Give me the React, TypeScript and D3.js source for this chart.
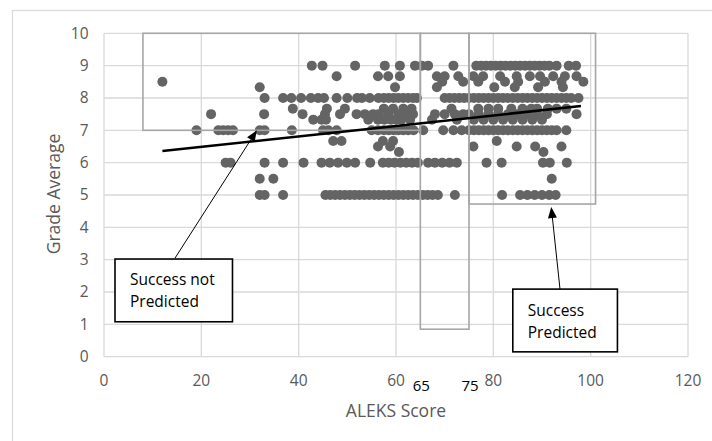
import React from "react";
import * as d3 from "d3";

// ---------- data ----------
const xTicks = [0, 20, 40, 60, 80, 100, 120];
const yTicks = [0, 1, 2, 3, 4, 5, 6, 7, 8, 9, 10];
const cutoffTicks = [65, 75];

const gradeLevels = [9, 8.67, 8.5, 8.33, 8, 7.67, 7.5, 7.33, 7, 6.67, 6.5, 6.33, 6, 5.5, 5];
const scoresByGrade: number[][] = [
  // 9
  [42.7, 44.9, 51.6, 57.7, 60.8, 63.9, 65.3, 66.6, 71.8, 76.5, 77.5, 78.5, 79.5, 80.5, 81.5, 82.5, 83.5, 84.5, 85.5, 86.5, 87.5, 88.5, 89.5, 90.5, 91.5, 93, 95.5, 97],
  // 8.67
  [47.8, 56.3, 58.4, 60.8, 68.4, 70, 72.8, 75.9, 77.9, 81.4, 84.8, 87.5, 89.6, 92.3, 94.7, 97.1],
  // 8.5
  [12, 69.5, 73.8, 76.9, 82.4, 85.1, 90.6, 94, 98.5],
  // 8.33
  [32, 59.8, 68.4, 80.2, 84.4, 89.2, 94.3],
  // 8
  [33, 36.8, 38.5, 40.5, 42.5, 44, 45.2, 47.8, 50, 52, 53, 54.6, 56.4, 57.5, 58.5, 59.5, 60.5, 61.5, 62.5, 63.5, 64.3, 70, 71, 72, 73, 74, 75, 76, 77, 78, 79, 80, 81, 82, 83, 84, 85, 86, 87, 88, 89, 90, 91, 92, 93, 94, 95, 96, 97.5],
  // 7.67
  [38.8, 45.8, 49.5, 57.5, 59.4, 61.5, 63.2, 71.4, 76.9, 79, 81, 83.7, 86, 87.8, 89, 91.2, 93, 95],
  // 7.5
  [22, 32.9, 40.8, 45.4, 48.5, 51.9, 53.6, 55.3, 56.4, 58.4, 60.5, 61.9, 63.5, 68, 70, 72.1, 73.8, 75, 77, 79, 81, 83, 85, 87, 89, 91, 97.1],
  // 7.33
  [43, 44.7, 45.6, 54.3, 56.3, 57.6, 59, 60, 61.1, 62.9, 67.4, 72.5, 76, 78, 80, 82, 84, 86, 88, 90],
  // 7
  [19, 23.5, 24.5, 25.5, 26.5, 32, 33, 38.6, 45, 46.1, 47.8, 55, 56.3, 57.5, 58.5, 59.5, 60.5, 61.5, 62.5, 63.6, 65.6, 69.7, 71.8, 73.5, 75, 76, 77, 78, 79, 80, 81, 82, 83, 84, 85, 86, 87, 88, 89, 90, 91, 92, 93, 95],
  // 6.67
  [47.1, 48.8, 57.3, 59.4, 80.7],
  // 6.5
  [56.3, 58.8, 75.9, 84.8, 88.6, 94],
  // 6.33
  [60.6, 90.3],
  // 6
  [25, 26, 33, 36.8, 41, 44.7, 46.4, 48.1, 49.9, 51.6, 54.7, 57.3, 58.5, 59.7, 60.9, 62.1, 63.3, 64.5, 66.6, 68, 69.5, 71, 72.5, 78.6, 81.7, 90.2, 91.6, 95.1],
  // 5.5
  [32, 34.8, 92],
  // 5
  [32, 33, 36.8, 45.5, 46.5, 47.5, 48.5, 49.5, 50.5, 51.5, 52.5, 53.5, 54.5, 55.5, 56.5, 57.5, 58.5, 59.5, 60.5, 61.5, 62.5, 63.5, 64.5, 65.5, 66.5, 67.5, 68.6, 72.1, 81.8, 85.5, 87, 88.5, 90, 91.5, 92.8],
];

// linear trendline
const trendIntercept = 6.166;
const trendSlope = 0.01616;
const trendExtent = [12, 98];

// highlighted regions [x0, x1, y0, y1]
const regionBoxes = [
  [8, 65, 7, 10],
  [65, 75, 0.85, 10],
  [75, 101, 4.72, 10],
];

// callouts: box [x0, x1, yTop, yBottom], arrow [fromX, fromY, toX, toY], text lines
const calloutBoxes = [
  [2.26, 26.4, 3.02, 1.08],
  [84.0, 105.5, 2.09, 0.15],
];
const calloutArrows = [
  [14.6, 3.05, 31.4, 7.0],
  [93.7, 2.09, 91.9, 4.63],
];
const calloutTexts = [
  ["Success not", "Predicted"],
  ["Success", "Predicted"],
];

// ---------- chart ----------
const W = 712;
const H = 441;
const FONT = "'Open Sans', 'Noto Sans', sans-serif";

export default function App() {
  const x = d3.scaleLinear().domain([0, 120]).range([104, 688]);
  const y = d3.scaleLinear().domain([0, 10]).range([356.7, 33.3]);

  const points: [number, number][] = [];
  gradeLevels.forEach((g, i) => scoresByGrade[i].forEach((s) => points.push([s, g])));

  const trendLine = d3
    .line<number>()
    .x((d) => x(d))
    .y((d) => y(trendIntercept + trendSlope * d))(trendExtent);

  const arrowHead = (a: number[]) => {
    const x1 = x(a[0]), y1 = y(a[1]), x2 = x(a[2]), y2 = y(a[3]);
    const ang = Math.atan2(y2 - y1, x2 - x1);
    const len = 11, half = 4.5;
    const bx = x2 - len * Math.cos(ang), by = y2 - len * Math.sin(ang);
    const px = -Math.sin(ang) * half, py = Math.cos(ang) * half;
    return {
      line: [x1, y1, bx, by],
      tri: `${x2},${y2} ${bx + px},${by + py} ${bx - px},${by - py}`,
    };
  };

  return (
    <svg
      width={W}
      height={H}
      style={{ position: "absolute", left: 0, top: 0, background: "#fff" }}
      fontFamily={FONT}
    >
      <rect x={0} y={0} width={W} height={H} fill="#fff" />
      {/* outer chart border */}
      <rect x={12.5} y={10.5} width={W + 20} height={H + 20} fill="none" stroke="#d9d9d9" strokeWidth={1.2} />

      {/* grid */}
      {yTicks.map((t) => (
        <line key={"gy" + t} x1={x(0)} x2={x(120)} y1={y(t)} y2={y(t)} stroke="#d9d9d9" strokeWidth={1.3} />
      ))}
      {xTicks.map((t) => (
        <line key={"gx" + t} x1={x(t)} x2={x(t)} y1={y(0)} y2={y(10)} stroke="#d9d9d9" strokeWidth={1.3} />
      ))}

      {/* tick labels */}
      {yTicks.map((t) => (
        <text key={"ly" + t} x={88.5} y={y(t)} dy="0.35em" textAnchor="end" fontSize={15.5} fill="#595959">
          {t}
        </text>
      ))}
      {xTicks.map((t) => (
        <text key={"lx" + t} x={x(t)} y={380.5} dy="0.35em" textAnchor="middle" fontSize={15.5} fill="#595959">
          {t}
        </text>
      ))}
      {cutoffTicks.map((t) => (
        <text key={"lc" + t} x={x(t) + 1} y={385.5} dy="0.35em" textAnchor="middle" fontSize={15} fill="#000">
          {t}
        </text>
      ))}

      {/* axis titles */}
      <text x={396} y={410.5} dy="0.35em" textAnchor="middle" fontSize={17.5} fill="#595959">
        ALEKS Score
      </text>
      <text
        transform="translate(53.5,194) rotate(-90)"
        dy="0.35em"
        textAnchor="middle"
        fontSize={17.5}
        fill="#595959"
      >
        Grade Average
      </text>

      {/* points */}
      {points.map((p, i) => (
        <circle key={"p" + i} cx={x(p[0])} cy={y(p[1])} r={5} fill="#646464" />
      ))}

      {/* region boxes */}
      {regionBoxes.map((b, i) => (
        <rect
          key={"rb" + i}
          x={x(b[0])}
          y={y(b[3])}
          width={x(b[1]) - x(b[0])}
          height={y(b[2]) - y(b[3])}
          fill="none"
          stroke="#a6a6a6"
          strokeWidth={1.6}
        />
      ))}

      {/* trendline */}
      <path d={trendLine || ""} fill="none" stroke="#000" strokeWidth={2.6} />

      {/* callouts */}
      {calloutArrows.map((a, i) => {
        const h = arrowHead(a);
        return (
          <g key={"ar" + i}>
            <line x1={h.line[0]} y1={h.line[1]} x2={h.line[2]} y2={h.line[3]} stroke="#000" strokeWidth={1} />
            <polygon points={h.tri} fill="#000" />
          </g>
        );
      })}
      {calloutBoxes.map((b, i) => (
        <g key={"cb" + i}>
          <rect
            x={x(b[0])}
            y={y(b[2])}
            width={x(b[1]) - x(b[0])}
            height={y(b[3]) - y(b[2])}
            fill="#fff"
            stroke="#000"
            strokeWidth={1.6}
          />
          {calloutTexts[i].map((t, j) => (
            <text
              key={j}
              x={x(b[0]) + 15}
              y={y(b[2]) + 21 + j * 22}
              dy="0.35em"
              fontSize={15.5}
              fill="#000"
            >
              {t}
            </text>
          ))}
        </g>
      ))}
    </svg>
  );
}
